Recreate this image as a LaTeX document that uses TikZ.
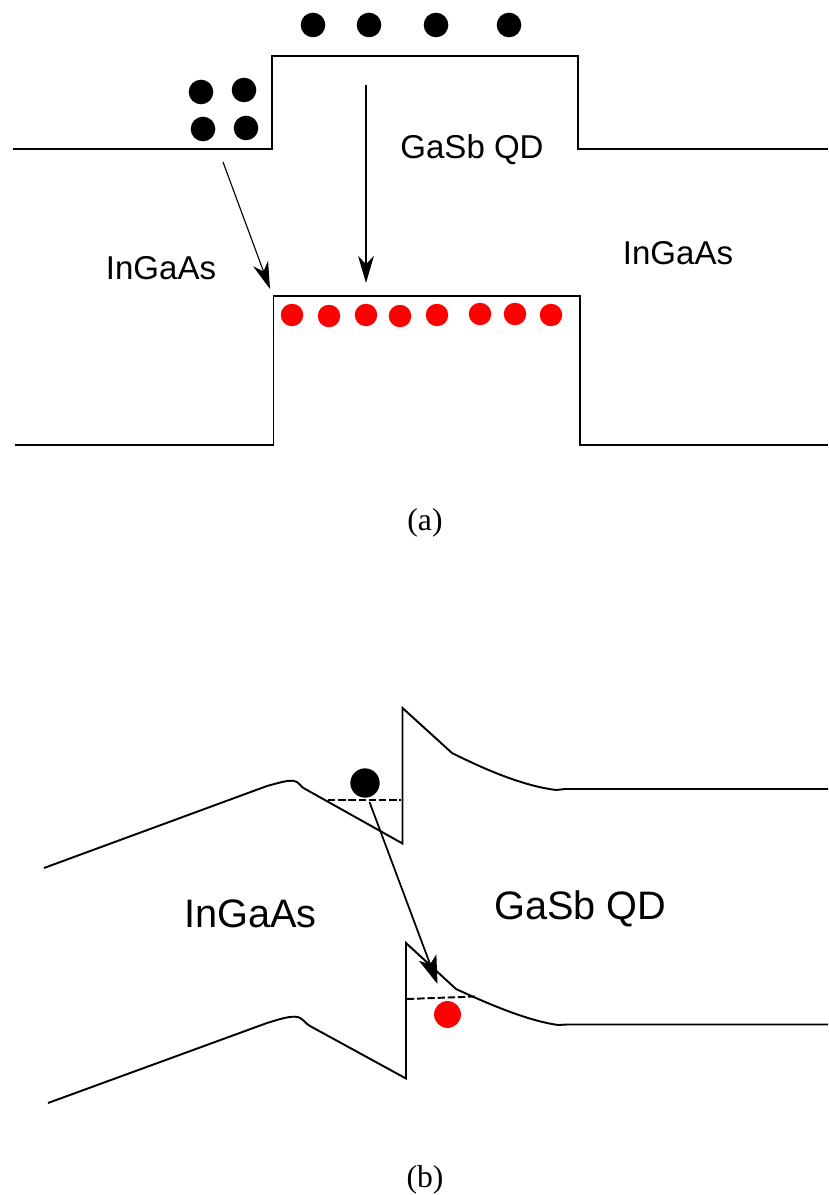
\documentclass[tikz,border=0pt]{standalone}
\usepackage{fontspec}
\setmainfont{Liberation Sans}
\newfontfamily\capfont{Liberation Serif}
\usetikzlibrary{arrows.meta}

\begin{document}
\begin{tikzpicture}[x=0.02cm, y=-0.02cm,
    band/.style={line width=1.1pt, line join=miter},
    level/.style={line width=1.1pt, dash pattern=on 4.2pt off 1.6pt},
    hop/.style={line width=0.65pt, -{Stealth[length=15.4pt, width=9pt, inset=4.7pt]}},
    bighop/.style={line width=1pt, -{Stealth[length=16pt, width=10.5pt, inset=4pt]}},
    elec/.style={circle, fill=black, inner sep=0, minimum size=14pt},
    hole/.style={circle, fill=red, inner sep=0, minimum size=12.8pt},
    small/.style={inner sep=0, anchor=base, font=\fontsize{18.8pt}{22pt}\selectfont},
    large/.style={inner sep=0, anchor=base, font=\fontsize{22.6pt}{26pt}\selectfont},
    panel/.style={inner sep=0, anchor=base, font=\capfont\fontsize{18pt}{20pt}\selectfont}]
      \useasboundingbox (0, 0) rectangle (828, 1195);

      % flat bands
      \draw[band] (13, 149) -- (272, 149) -- (272, 56) -- (578, 56) -- (578, 149) -- (828, 149);
      \draw[band] (15, 445) -- (273.5, 445) -- (273.5, 296) -- (580, 296) -- (580, 445) -- (828, 445);

      \foreach \name/\x/\y in {a/313/25, b/369/25, c/436/25, d/509/25, e/201/92, f/244/90, g/203/129, h/246/128} {
        \node[elec] (top\name) at (\x, \y) {};
      }
      \foreach \name/\x/\y in {a/292/315, b/329/316, c/366/315, d/400/316, e/437/315, f/480/314, g/515/314, h/551/315} {
        \node[hole] (low\name) at (\x, \y) {};
      }

      \coordinate (wellstart) at (223, 162);
      \coordinate (wellend) at (270, 289);
      \coordinate (dotstart) at (366, 85);
      \coordinate (dotend) at (366, 283);
      \draw[hop] (wellstart) -- (wellend);
      \draw[hop] (dotstart) -- (dotend);

      \node[small] (dotlabela) at (472, 159) {GaSb QD};
      \node[small] (leftlabela) at (161, 280) {InGaAs};
      \node[small] (rightlabela) at (678, 265) {InGaAs};
      \node[panel] (capa) at (425, 530) {(a)};

      % bent bands
      \draw[band] (44, 868) -- (267, 786) .. controls (280, 782.5) and (286, 780.5) .. (293, 780.7)
        .. controls (299, 781) and (301, 788) .. (307, 790)
        -- (402.5, 843.5) -- (402.5, 708) -- (452, 753)
        .. controls (490, 772) and (525, 786) .. (556, 790) -- (565, 789) -- (828, 789);
      \draw[band] (48, 1103) -- (267, 1023) .. controls (280, 1019) and (288, 1016.5) .. (295, 1016.7)
        .. controls (303, 1017) and (304, 1023) .. (310, 1026)
        -- (406, 1078.5) -- (406, 943) -- (456, 989)
        .. controls (495, 1007) and (530, 1021) .. (558, 1025) -- (567, 1024.5) -- (828, 1024.5);

      \coordinate (cbleft) at (328, 800);
      \coordinate (cbright) at (401, 800);
      \coordinate (vbleft) at (407, 999);
      \coordinate (vbright) at (475, 996.5);
      \draw[level] (cbleft) -- (cbright);
      \draw[level] (vbleft) -- (vbright);

      \node[elec, minimum size=16.7pt] (trapelec) at (365, 783) {};
      \node[hole, minimum size=15.3pt] (traphole) at (447.5, 1014.5) {};

      \coordinate (dropstart) at (369.5, 802);
      \coordinate (dropend) at (437.5, 984);
      \draw[bighop] (dropstart) -- (dropend);

      \node[large] (leftlabelb) at (250.5, 927) {InGaAs};
      \node[large] (dotlabelb) at (580.5, 919) {GaSb QD};
      \node[panel] (capb) at (425, 1187) {(b)};
    \end{tikzpicture}
\end{document}
